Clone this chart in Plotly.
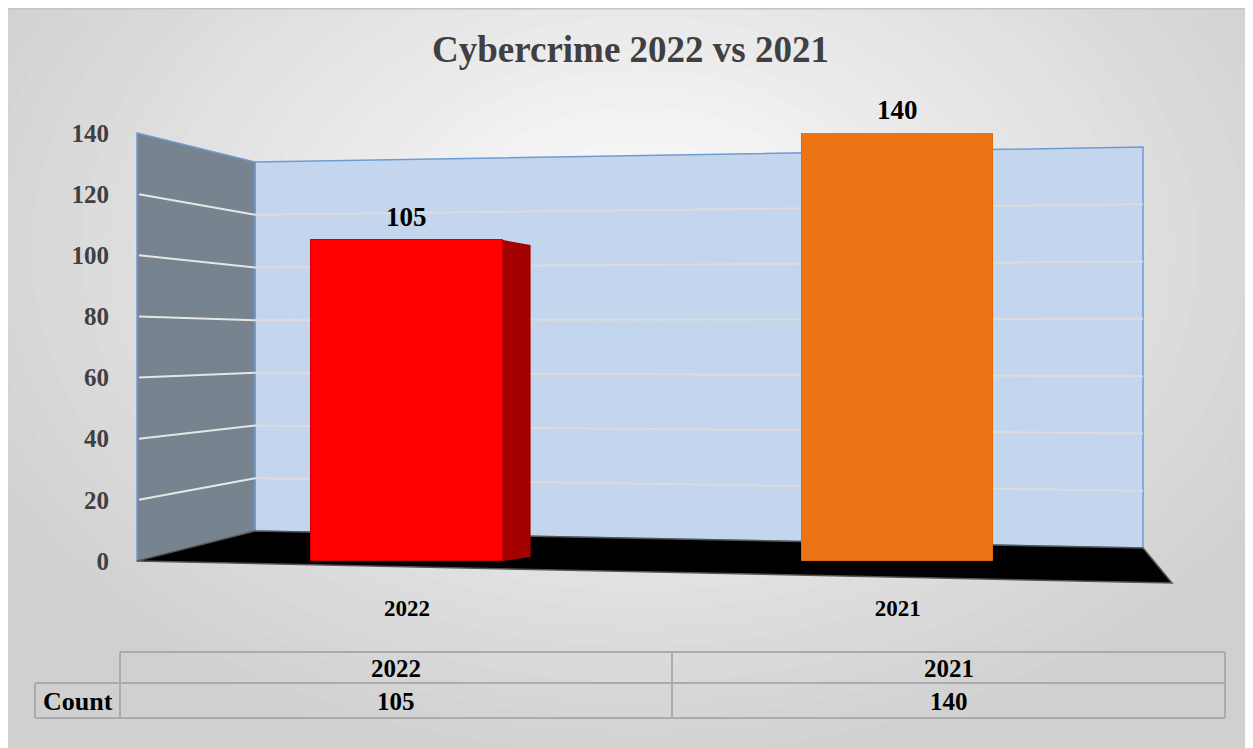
import plotly.graph_objects as go

years = ["2022", "2021"]
counts = [105, 140]
bar_colors = ["#ff0000", "#ec7414"]
side_colors = ["#a30000", None]
y_ticks = [0, 20, 40, 60, 80, 100, 120, 140]
row_label = "Count"
title = "Cybercrime 2022 vs 2021"

W, H = 1253, 748
FONT = "Liberation Serif"
OFF = 8  # the page itself adds an 8px body margin


# screen pixel -> paper helpers (margins are zero)
def px(x):
    return (x - OFF) / W

def py(y):
    return 1 - (y - OFF) / H

# plot box in screen pixels
X0, X1 = 137, 1143
Y0, Y140 = 561, 133
XR = [-0.55, 1.5]
unit = (X1 - X0) / (XR[1] - XR[0])
bar_w = 0.39


def yfront(v):
    return Y0 - v * (Y0 - Y140) / 140


def yback_l(v):
    return 531 - v * (531 - 162) / 140


def yback_r(v):
    return 548 - v * (548 - 147) / 140


def path(pts):
    s = "M " + " L ".join(f"{px(a):.5f},{py(b):.5f}" for a, b in pts) + " Z"
    return s


shapes = []

# radial-ish background
shapes.append(dict(type="rect", xref="paper", yref="paper", x0=0, x1=1, y0=0, y1=1,
                   fillcolor="#d0d0d0", line=dict(width=0), layer="below"))
cx, cy = 640, 250
n = 30
for i in range(n):
    f = 1 - i / n
    g = int(0xd0 + (0xfd - 0xd0) * (i / (n - 1)))
    rx, ry = 760 * f, 540 * f
    shapes.append(dict(type="circle", xref="paper", yref="paper",
                       x0=px(cx - rx), x1=px(cx + rx), y0=py(cy + ry), y1=py(cy - ry),
                       fillcolor=f"rgb({g},{g},{g})", line=dict(width=0), layer="below"))
shapes.append(dict(type="line", xref="paper", yref="paper", x0=0, x1=1, y0=py(8.7), y1=py(8.7),
                   line=dict(color="#c4c4c4", width=1.5), layer="below"))

# back wall
shapes.append(dict(type="path", xref="paper", yref="paper",
                   path=path([(255, 162), (1143, 147), (1143, 548), (255, 531)]),
                   fillcolor="#c3d6ed", line=dict(color="#6f9bd3", width=1.5), layer="below"))
# side wall
shapes.append(dict(type="path", xref="paper", yref="paper",
                   path=path([(137, 133), (255, 162), (255, 531), (137, 561)]),
                   fillcolor="#77838f", line=dict(color="#6f9bd3", width=1.5), layer="below"))
# floor
shapes.append(dict(type="path", xref="paper", yref="paper",
                   path=path([(137, 561), (255, 531), (1143, 548), (1172, 583)]),
                   fillcolor="#000000", line=dict(color="#555555", width=1.5), layer="below"))

# gridlines on walls
for v in y_ticks[1:-1]:
    shapes.append(dict(type="line", xref="paper", yref="paper",
                       x0=px(255), x1=px(1143), y0=py(yback_l(v)), y1=py(yback_r(v)),
                       line=dict(color="#dcdcdc", width=2), layer="below"))
    shapes.append(dict(type="line", xref="paper", yref="paper",
                       x0=px(139), x1=px(255), y0=py(yfront(v)), y1=py(yback_l(v)),
                       line=dict(color="#e6e6e6", width=2), layer="below"))

# side faces of bars, derived from the values
for i, (v, sc) in enumerate(zip(counts, side_colors)):
    if sc is None:
        continue
    right = X0 + (i - XR[0] + bar_w / 2) * unit
    top = yfront(v)
    shapes.append(dict(type="path", xref="paper", yref="paper",
                       path=path([(right, top), (right + 28, top + 5), (right + 28, Y0 - 4), (right, Y0)]),
                       fillcolor=sc, line=dict(width=0), layer="above"))

fig = go.Figure()
fig.add_trace(go.Bar(
    x=list(range(len(years))), y=counts, width=bar_w,
    marker=dict(color=bar_colors, line=dict(color=["#d40000", "#e06a10"], width=1)),
    hoverinfo="skip", showlegend=False,
))

annotations = []
annotations.append(dict(text=title, xref="paper", yref="paper", x=px(630), y=py(49),
                        xanchor="center", yanchor="middle", showarrow=False,
                        font=dict(family=FONT, size=37, color="#404040", weight="bold")))
for i, v in enumerate(counts):
    annotations.append(dict(text=str(v), x=i, y=v, xref="x", yref="y",
                            xanchor="center", yanchor="middle", yshift=23, showarrow=False,
                            font=dict(family=FONT, size=27, color="black", weight="bold")))

# data table under the chart
tl, tm, tr = 120, 672, 1225
rl = 35
ty0, ty1, ty2 = 652, 683, 718
gc = "#ababab"
for x0_, x1_, y_ in [(tl, tr, ty0), (rl, tr, ty1), (rl, tr, ty2)]:
    shapes.append(dict(type="line", xref="paper", yref="paper", x0=px(x0_), x1=px(x1_),
                       y0=py(y_), y1=py(y_), line=dict(color=gc, width=2)))
for x_, ya, yb in [(rl, ty1, ty2), (tl, ty0, ty2), (tm, ty0, ty2), (tr, ty0, ty2)]:
    shapes.append(dict(type="line", xref="paper", yref="paper", x0=px(x_), x1=px(x_),
                       y0=py(ya), y1=py(yb), line=dict(color=gc, width=2)))
cell_font = dict(family=FONT, size=25, color="black", weight="bold")
col_c = [(tl + tm) / 2, (tm + tr) / 2]
for c, yr, v in zip(col_c, years, counts):
    annotations.append(dict(text=yr, xref="paper", yref="paper", x=px(c), y=py((ty0 + ty1) / 2 + 1),
                            xanchor="center", yanchor="middle", showarrow=False, font=cell_font))
    annotations.append(dict(text=str(v), xref="paper", yref="paper", x=px(c), y=py((ty1 + ty2) / 2 + 1),
                            xanchor="center", yanchor="middle", showarrow=False, font=cell_font))
annotations.append(dict(text=row_label, xref="paper", yref="paper", x=px((rl + tl) / 2),
                        y=py((ty1 + ty2) / 2 + 1), xanchor="center", yanchor="middle", showarrow=False,
                        font=dict(family=FONT, size=26, color="black", weight="bold")))

fig.update_layout(
    width=W, height=H,
    margin=dict(l=0, r=0, t=0, b=0, pad=0, autoexpand=False),
    paper_bgcolor="white",
    plot_bgcolor="rgba(0,0,0,0)",
    bargap=0,
    shapes=shapes,
    annotations=annotations,
    xaxis=dict(
        domain=[px(X0), px(X1)], range=XR, automargin=False,
        tickvals=list(range(len(years))), ticktext=years,
        showgrid=False, zeroline=False, showline=False,
        ticks="outside", ticklen=26, tickcolor="rgba(0,0,0,0)",
        tickfont=dict(family=FONT, size=23, color="black", weight="bold"),
    ),
    yaxis=dict(
        domain=[py(Y0), py(Y140)], range=[0, 140], tickvals=y_ticks, automargin=False,
        showgrid=False, zeroline=False, showline=False,
        ticks="outside", ticklen=22, tickcolor="rgba(0,0,0,0)",
        tickfont=dict(family=FONT, size=25, color="#404040", weight="bold"),
    ),
)

fig.write_html("out.html")
